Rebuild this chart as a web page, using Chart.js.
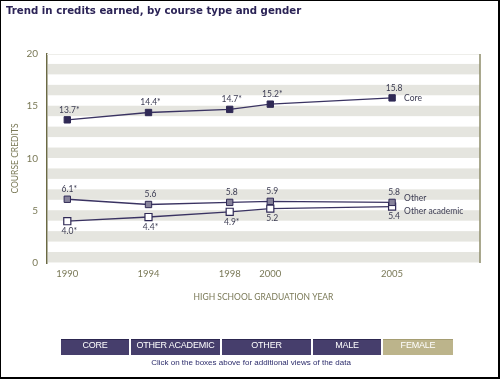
<!DOCTYPE html>
<html>
<head>
<meta charset="utf-8">
<script src="https://cdn.jsdelivr.net/npm/chart.js@4/dist/chart.umd.min.js"></script>
<style>
  html, body { margin: 0; padding: 0; background: #fff; }
  #wrap { position: relative; width: 500px; height: 379px; box-sizing: border-box; border: 1px solid #000; border-right-width: 2px; border-bottom-width: 2px; overflow: hidden; }
  #title { position: absolute; left: 5px; top: 4px; font: bold 10.2px "DejaVu Sans", Verdana, sans-serif; color: #2b2356; }
  canvas { position: absolute; left: -1px; top: -1px; }
  #btns { position: absolute; left: 60px; top: 338px; height: 16px; display: flex; }
  #btns div { height: 15px; line-height: 16px; color: #fff; text-align: center; font: 9px "Liberation Sans", Arial, sans-serif; letter-spacing: -0.2px; margin-right: 2px; background: #463e6c; border-top: 1px solid #2c2650; }
  #btns div.f { background: #bcb48b; border-top-color: #a59d72; }
  #cap { position: absolute; left: 0; width: 500px; top: 357px; text-align: center; font: 8px "Liberation Sans", Arial, sans-serif; color: #2b2b6b; }
</style>
</head>
<body>
<div id="wrap">
  <canvas id="c" width="500" height="379"></canvas>
  <div id="title">Trend in credits earned, by course type and gender</div>
  <div id="btns">
    <div style="width:68px">CORE</div>
    <div style="width:89px">OTHER ACADEMIC</div>
    <div style="width:89px">OTHER</div>
    <div style="width:68px">MALE</div>
    <div class="f" style="width:70px">FEMALE</div>
  </div>
  <div id="cap">Click on the boxes above for additional views of the data</div>
</div>
<script>
// ---- data ----
const years = ['1990', '1994', '1998', '2000', '2005'];
const axisSlots = ['1990', '', '1994', '', '1998', '2000', '', '', '2005'];
const coreValues = [13.7, 14.4, 14.7, 15.2, 15.8];
const coreLabels = ['13.7*', '14.4*', '14.7*', '15.2*', '15.8'];
const otherValues = [6.1, 5.6, 5.8, 5.9, 5.8];
const otherLabels = ['6.1*', '5.6', '5.8', '5.9', '5.8'];
const otherAcadValues = [4.0, 4.4, 4.9, 5.2, 5.4];
const otherAcadLabels = ['4.0*', '4.4*', '4.9*', '5.2', '5.4'];
const seriesNames = ['Core', 'Other', 'Other academic'];
const yTicks = [0, 5, 10, 15, 20];

const olive = '#7a7957';
const lineCol = '#3a3362';

function pts(vals) { return years.map((y, i) => ({ x: axisSlots.indexOf(y), y: vals[i] })); }

const stripes = {
  id: 'stripes',
  beforeDatasetsDraw(chart) {
    const { ctx, chartArea: a, scales: { y } } = chart;
    ctx.save();
    ctx.fillStyle = '#e5e5df';
    for (let v = 0; v < 20; v += 2) {
      const t = y.getPixelForValue(v + 1.05), b = y.getPixelForValue(v + 0.05);
      ctx.fillRect(a.left + 1, t, a.right - a.left - 1, b - t);
    }
    ctx.strokeStyle = '#eeeeea';
    ctx.lineWidth = 1;
    ctx.beginPath();
    ctx.moveTo(a.left, a.top + 0.5); ctx.lineTo(a.right, a.top + 0.5);
    ctx.stroke();
    ctx.strokeStyle = '#8c8b68';
    ctx.lineWidth = 1.5;
    ctx.beginPath();
    ctx.moveTo(a.right, a.top); ctx.lineTo(a.right, a.bottom);
    ctx.stroke();
    ctx.restore();
  }
};

const labelsPlugin = {
  id: 'valLabels',
  afterDatasetsDraw(chart) {
    const { ctx } = chart;
    const texts = [coreLabels, otherLabels, otherAcadLabels];
    const below = [false, false, true];
    const nameDy = [0, -4, 5];
    ctx.save();
    ctx.font = '8.5px Lato, "Open Sans", sans-serif';
    ctx.fillStyle = '#3b3b52';
    chart.data.datasets.forEach((ds, di) => {
      const meta = chart.getDatasetMeta(di);
      meta.data.forEach((p, i) => {
        ctx.textAlign = 'center';
        ctx.textBaseline = 'middle';
        ctx.fillText(texts[di][i], p.x + 2, p.y + (below[di] ? 10 : -10));
      });
      const last = meta.data[meta.data.length - 1];
      ctx.textAlign = 'left';
      ctx.fillText(seriesNames[di], last.x + 12, last.y + nameDy[di]);
    });
    ctx.restore();
  }
};

new Chart(document.getElementById('c'), {
  type: 'line',
  data: {
    datasets: [
      { label: seriesNames[0], data: pts(coreValues), borderColor: lineCol, borderWidth: 1.3,
        pointStyle: 'rect', pointRadius: 4.5, pointBackgroundColor: '#2f2955', pointBorderColor: '#2f2955', pointBorderWidth: 1 },
      { label: seriesNames[1], data: pts(otherValues), borderColor: lineCol, borderWidth: 1.3,
        pointStyle: 'rect', pointRadius: 4.5, pointBackgroundColor: '#87839b', pointBorderColor: '#2f2955', pointBorderWidth: 1 },
      { label: seriesNames[2], data: pts(otherAcadValues), borderColor: lineCol, borderWidth: 1.3,
        pointStyle: 'rect', pointRadius: 5, pointBackgroundColor: '#ffffff', pointBorderColor: '#2f2955', pointBorderWidth: 1.2 }
    ]
  },
  options: {
    responsive: false,
    animation: false,
    layout: { padding: { top: 54, right: 20, bottom: 75, left: 10 } },
    plugins: { legend: { display: false }, tooltip: { enabled: false } },
    scales: {
      x: {
        type: 'linear',
        min: -0.5, max: 10.165,
        afterBuildTicks(s) { s.ticks = axisSlots.map((l, i) => ({ value: i, label: l })).filter(t => t.label); },
        grid: { display: false, drawTicks: false },
        border: { display: false },
        ticks: { autoSkip: false, maxRotation: 0, padding: 5, color: olive,
                 callback: (v) => axisSlots[v] || '',
                 font: { family: 'Lato, "Open Sans", sans-serif', size: 9.5 } },
        title: { display: true, text: 'HIGH SCHOOL GRADUATION YEAR', color: olive, padding: { top: 0, bottom: 2 },
                 font: { family: 'Lato, "Open Sans", sans-serif', size: 8.5 } },
        afterFit(s) { s.height = 41; }
      },
      y: {
        min: 0, max: 20,
        afterBuildTicks(s) { s.ticks = yTicks.map(v => ({ value: v })); },
        grid: { display: false, drawTicks: false },
        border: { display: true, color: '#6b6a45', width: 1.5 },
        ticks: { padding: 9, color: olive, font: { family: 'Lato, "Open Sans", sans-serif', size: 10 } },
        title: { display: true, text: 'COURSE CREDITS', color: olive, padding: { top: 0, bottom: 0 },
                 font: { family: 'Lato, "Open Sans", sans-serif', size: 8.5 } },
        afterFit(s) { s.width = 37; }
      }
    }
  },
  plugins: [stripes, labelsPlugin]
});
</script>
</body>
</html>
